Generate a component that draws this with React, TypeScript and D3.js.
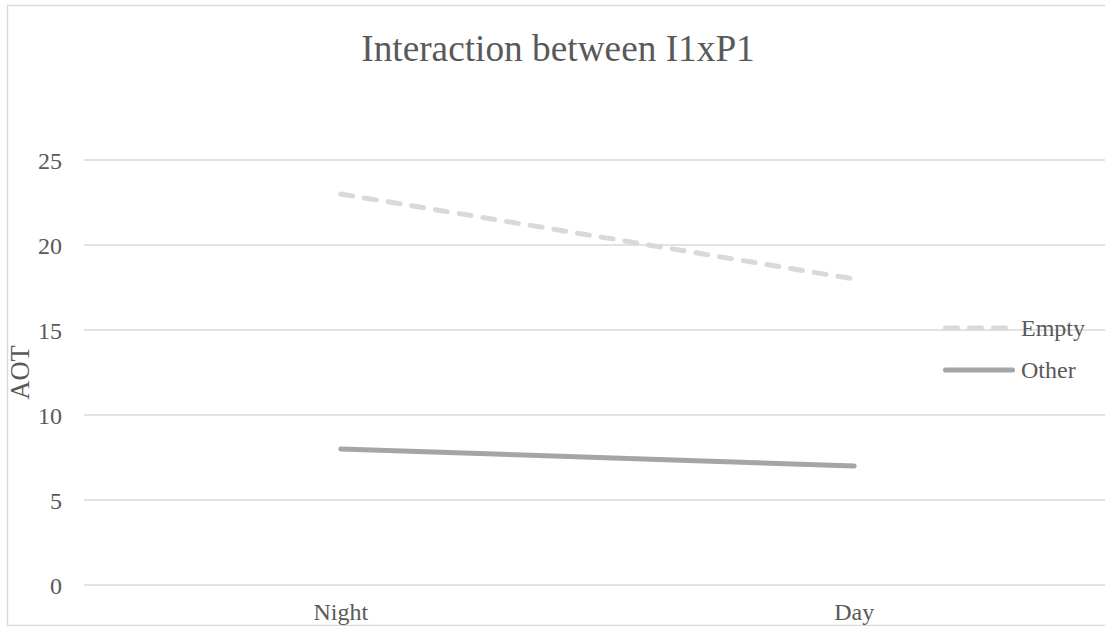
import React from "react";
import * as d3 from "d3";

// Interaction plot: mean AOT by time of day for each level
const categories = ["Night", "Day"];
const seriesNames = ["Empty", "Other"];
const emptyValues = [23, 18];
const otherValues = [8, 7];
const yTicks = [0, 5, 10, 15, 20, 25];

const W = 1105;
const H = 626;
const FONT = "'Liberation Serif', 'Times New Roman', serif";
const TEXT = "#595959";
const GRID = "#d9d9d9";

const series = [
  { name: seriesNames[0], values: emptyValues, color: "#d9d9d9", dash: "12 12" },
  { name: seriesNames[1], values: otherValues, color: "#a5a5a5", dash: null as string | null },
];

export default function App() {
  const plot = { left: 84, right: 1111, top: 160, bottom: 585 };

  const x = d3
    .scalePoint<string>()
    .domain(categories)
    .range([plot.left, plot.right])
    .padding(0.5);

  const y = d3.scaleLinear().domain([0, 25]).range([plot.bottom, plot.top]);

  const line = d3
    .line<number>()
    .x((_, i) => x(categories[i]) as number)
    .y((d) => y(d));

  const legendX0 = 945.5;
  const legendX1 = 1012.5;
  const legendY = [328, 370];

  return (
    <svg
      width={W}
      height={H}
      style={{ position: "absolute", left: 0, top: 0, background: "#fff" }}
      fontFamily={FONT}
    >
      {/* chart frame */}
      <rect x={7.5} y={5.5} width={W + 10} height={H - 6} fill="#fff" stroke={GRID} strokeWidth={1.5} />

      {/* title */}
      <text x={558} y={61} textAnchor="middle" fontSize={37.3} fill={TEXT}>
        Interaction between I1xP1
      </text>

      {/* horizontal gridlines and y tick labels */}
      {yTicks.map((t) => (
        <g key={t}>
          <line x1={plot.left} x2={plot.right} y1={y(t)} y2={y(t)} stroke={GRID} strokeWidth={1.5} />
          <text x={62} y={y(t) + 8.5} textAnchor="end" fontSize={24} fill={TEXT}>
            {t}
          </text>
        </g>
      ))}

      {/* category labels */}
      {categories.map((c) => (
        <text key={c} x={x(c)} y={620} textAnchor="middle" fontSize={24} fill={TEXT}>
          {c}
        </text>
      ))}

      {/* y axis title */}
      <text
        transform={`translate(29, ${(plot.top + plot.bottom) / 2}) rotate(-90)`}
        textAnchor="middle"
        fontSize={26.5}
        fill={TEXT}
      >
        AOT
      </text>

      {/* series lines */}
      {series.map((s) => (
        <path
          key={s.name}
          d={line(s.values) || ""}
          fill="none"
          stroke={s.color}
          strokeWidth={5}
          strokeLinecap="round"
          strokeLinejoin="round"
          strokeDasharray={s.dash || undefined}
        />
      ))}

      {/* legend */}
      {series.map((s, i) => (
        <g key={s.name}>
          <line
            x1={legendX0}
            x2={legendX1}
            y1={legendY[i]}
            y2={legendY[i]}
            stroke={s.color}
            strokeWidth={5}
            strokeLinecap="round"
            strokeDasharray={s.dash || undefined}
          />
          <text x={1021} y={legendY[i] + 7.5} fontSize={24} fill={TEXT}>
            {s.name}
          </text>
        </g>
      ))}
    </svg>
  );
}
